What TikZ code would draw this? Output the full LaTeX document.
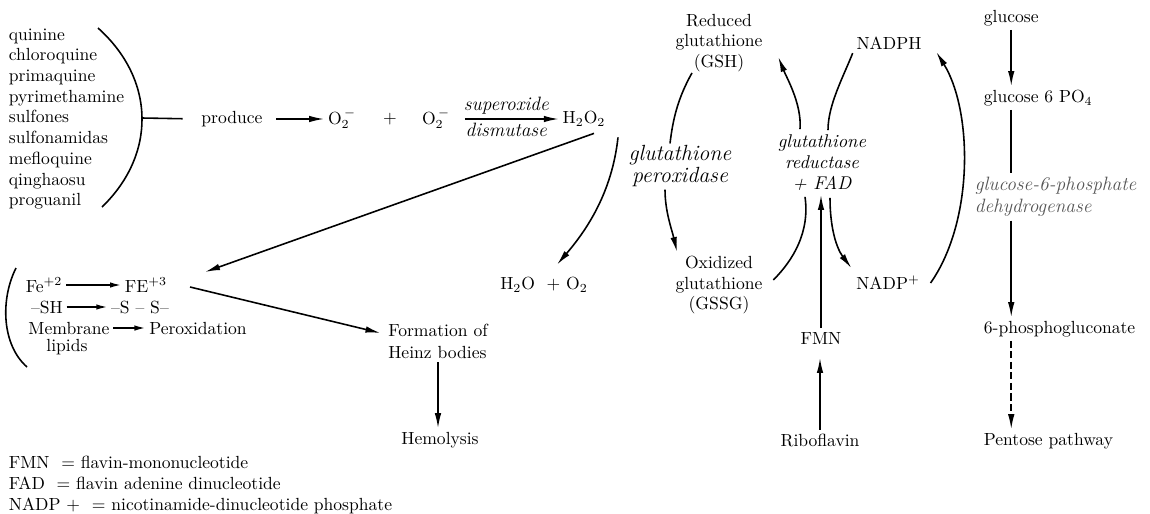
\documentclass[tikz,border=0pt]{standalone}
\usepackage{amsmath}
\usepackage{xcolor}
\usepackage{tikz}
\usetikzlibrary{arrows.meta,positioning,calc}
\definecolor{enzgray}{HTML}{555555}

\begin{document}
\begin{tikzpicture}[
  x=0.02cm,y=-0.02cm,
  txt/.style={font=\fontsize{10}{11.8}\selectfont,inner sep=2pt},
  list/.style={txt,align=left,anchor=west},
  enz/.style={font=\itshape\fontsize{11}{12.5}\selectfont,align=center,inner sep=2pt},
  arrow/.style={-{Latex[length=3mm,width=1.3mm]},line width=0.9pt},
  small arrow/.style={-{Latex[length=2.2mm,width=1.1mm]},line width=0.9pt},
  link/.style={line width=0.9pt}
]
\useasboundingbox (0,0) rectangle (1150,514);

% drugs and superoxide
\node[list] (drugs) at (5,119) {quinine\\chloroquine\\primaquine\\pyrimethamine\\sulfones\\sulfonamidas\\mefloquine\\qinghaosu\\proguanil};
\draw[link] (98,28) .. controls (156,80) and (156,155) .. (102,207);
\coordinate (brk) at (142,118);
\node[txt] (produce) at (232,119) {produce};
\draw[link,shorten >=0.3cm] (brk) -- (produce.west);
\node[txt] (o2a) at (342,119) {O$_2^{\,-}$};
\draw[arrow,shorten <=0.2cm] (produce.east) -- (o2a.west);
\node[txt] (plus) at (390,119) {+};
\node[txt] (o2b) at (436,119) {O$_2^{\,-}$};
\node[txt] (h2o2) at (584,119) {H$_2$O$_2$};
\draw[arrow,shorten <=0.22cm] (o2b.east) -- node[enz,above]{superoxide} node[enz,below]{dismutase} (h2o2.west);

% peroxide routes
\node[txt] (h2o) at (544,285) {H$_2$O \ + O$_2$};
\coordinate (fein) at (205,272);
\coordinate (feout) at (190,287);
\draw[arrow] ([shift={(10,3)}]h2o2.south) -- (fein);
\draw[arrow] ([shift={(34,7)}]h2o2.south) .. controls +(-6,55) and +(30,-35) .. ([shift={(13,-9)}]h2o.north);

% oxidant damage
\draw[link] (16,268) .. controls (0,300) and (2,345) .. (27,367);
\node[txt] (fe2) at (44,285) {Fe$^{+2}$};
\node[txt] (fe3) at (146,285) {FE$^{+3}$};
\draw[small arrow] (fe2) -- (fe3);
\node[txt] (sh) at (47,307) {\textendash SH};
\node[txt] (ss) at (140,307) {\textendash S \textendash{} S\textendash};
\draw[small arrow] (sh) -- (ss);
\node[txt] (mem) at (69,328) {Membrane};
\node[txt] (perox) at (198,328) {Peroxidation};
\draw[small arrow] (mem) -- (perox);
\node[txt] (lipids) at (67,347) {lipids};
\node[txt,align=left,font=\fontsize{10}{12.5}\selectfont] (heinz) at (438,341) {Formation of\\Heinz bodies};
\draw[arrow] (feout) -- ([shift={(-4,-8)}]heinz.west);
\node[txt] (hemo) at (440,440) {Hemolysis};
\draw[arrow] (heinz.south) -- (heinz.south |- hemo.north);

% legend
\node[list] (legend) at (5,485) {FMN \ = flavin-mononucleotide\\FAD \ = flavin adenine dinucleotide\\NADP + \ = nicotinamide-dinucleotide phosphate};

% glutathione cycle
\node[txt,align=center] (gsh) at (719,43) {Reduced\\glutathione\\(GSH)};
\node[enz,font=\itshape\fontsize{12.5}{12.5}\selectfont] (gpx) at (680,166) {glutathione\\peroxidase};
\node[txt,align=center] (gssg) at (719,285) {Oxidized\\glutathione\\(GSSG)};
\node[enz,font=\itshape\fontsize{10.5}{12}\selectfont] (gr) at (822,163) {glutathione\\reductase\\+ FAD};
\node[txt] (nadph) at (889,43) {NADPH};
\node[txt] (nadp) at (888,283) {NADP$^{+}$};
\node[txt] (fmn) at (821,338) {FMN};
\node[txt] (ribo) at (820,440) {Riboflavin};
\draw[link] ([shift={(-27,-3)}]gsh.south) .. controls +(-14,25) and +(3,-25) .. ([shift={(-10,2)}]gpx.north);
\draw[arrow] ([shift={(-15,-1)}]gpx.south) .. controls +(0,22) and +(-5,-22) .. ([shift={(-42,0)}]gssg.north);
\draw[link] ([shift={(7,-5)}]gssg.east) .. controls +(20,-20) and +(5,35) .. ([shift={(-17,2)}]gr.south);
\draw[arrow] ([shift={(-22,-2)}]gr.north) .. controls +(2,-25) and +(8,20) .. ([shift={(12,14)}]gsh.east);
\draw[link] (nadph.south west) .. controls +(-10,25) and +(0,-25) .. ([shift={(6,-1)}]gr.north);
\draw[arrow] ([shift={(8,3)}]gr.south) .. controls +(0,30) and +(-15,-20) .. ([shift={(-1,-4)}]nadp.north west);
\draw[arrow] ([shift={(7,0)}]nadp.east) .. controls +(44,-63) and +(36,58) .. ([shift={(11,9)}]nadph.east);
\draw[arrow] (fmn.north) -- (fmn.north |- gr.south);
\draw[arrow,shorten >=0.2cm] (ribo.north) -- (ribo.north |- fmn.south);

% pentose pathway
\node[list] (glucose) at (980,18) {glucose};
\node[list] (g6p) at (980,98) {glucose 6 PO$_4$};
\node[enz,anchor=west,align=left,text=enzgray] (g6pd) at (971,197) {glucose-6-phosphate\\dehydrogenase};
\node[list] (pgluc) at (980,329) {6-phosphogluconate};
\node[list] (pentose) at (980,441) {Pentose pathway};
\draw[arrow] (glucose.south) -- (glucose.south |- g6p.north);
\draw[link] (glucose.south |- g6p.south) -- (glucose.south |- g6pd.north);
\draw[arrow] (glucose.south |- g6pd.south) -- (glucose.south |- pgluc.north);
\draw[arrow,dash pattern=on 4pt off 2pt] (glucose.south |- pgluc.south) -- (glucose.south |- pentose.north);
\end{tikzpicture}
\end{document}
